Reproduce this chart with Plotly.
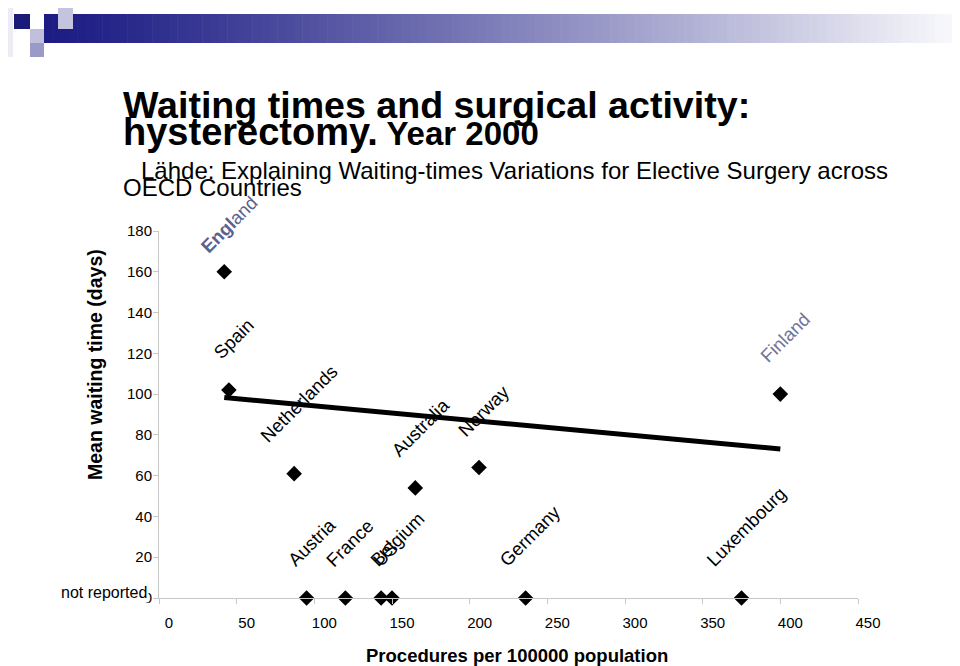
import numpy as np
import plotly.graph_objects as go

# ---- data ----
countries = ["England", "Spain", "Netherlands", "Austria", "France", "US",
             "Belgium", "Australia", "Norway", "Germany", "Luxembourg", "Finland"]
procedures = [42, 45, 87, 95, 120, 143, 150, 165, 206, 236, 375, 400]
waiting = [160, 102, 61, 0, 0, 0, 0, 54, 64, 0, 0, 100]   # 0 = not reported
reported = [True, True, True, False, False, False, False, True, True, False, False, True]
x_ticks = [0, 50, 100, 150, 200, 250, 300, 350, 400, 450]
y_ticks = [0, 20, 40, 60, 80, 100, 120, 140, 160, 180]

FONT = "Liberation Sans, Arial, sans-serif"
OFF = 8                     # page body margin
PAGE_W, PAGE_H = 960, 666
L, R, T, B = 159, 858, 231, 598   # plot area in page pixels


def P(px, py):
    return dict(xref="paper", yref="paper",
                x=(px - L) / (R - L), y=(B - py) / (B - T))


fig = go.Figure()

# trend line (least squares over reported points)
rx = np.array([p for p, r in zip(procedures, reported) if r], dtype=float)
ry = np.array([w for w, r in zip(waiting, reported) if r], dtype=float)
k, b0 = np.polyfit(rx, ry, 1)
tx = np.array([rx.min(), rx.max()])
fig.add_trace(go.Scatter(x=tx, y=k * tx + b0, mode="lines",
                         line=dict(color="black", width=5), hoverinfo="skip",
                         showlegend=False))

fig.add_trace(go.Scatter(x=procedures, y=waiting, mode="markers",
                         marker=dict(symbol="diamond", size=12, color="black"),
                         cliponaxis=False, showlegend=False))

annotations = []
label_colors = {"England": "#5b6190", "Finland": "#70739a"}
label_lift = {"England": 13}
for c, xv, yv in zip(countries, procedures, waiting):
    txt = "<b>Engl</b>and" if c == "England" else c
    annotations.append(dict(x=xv, y=yv, xref="x", yref="y", text=txt,
                            showarrow=False, textangle=-45,
                            xanchor="center", yanchor="bottom",
                            xshift=5, yshift=label_lift.get(c, 26), borderpad=0,
                            font=dict(family=FONT, size=18.5,
                                      color=label_colors.get(c, "black"))))

# titles
annotations.append(dict(**P(122, 105), text="<b>Waiting times and surgical activity:</b>",
                        showarrow=False, xanchor="left", yanchor="middle", borderpad=0,
                        font=dict(family=FONT, size=37.6, color="black")))
annotations.append(dict(**P(122, 132),
                        text="<b>hysterectomy.</b><b><span style='font-size:33px'> Year 2000</span></b>",
                        showarrow=False, xanchor="left", yanchor="middle", borderpad=0,
                        font=dict(family=FONT, size=38, color="black")))
annotations.append(dict(**P(140, 170),
                        text="Lähde: Explaining Waiting-times Variations for Elective Surgery across",
                        showarrow=False, xanchor="left", yanchor="middle", borderpad=0,
                        font=dict(family=FONT, size=24, color="black")))
annotations.append(dict(**P(122, 188), text="OECD Countries",
                        showarrow=False, xanchor="left", yanchor="middle", borderpad=0,
                        font=dict(family=FONT, size=24, color="black")))

# axis titles
annotations.append(dict(**P(95, 365), text="<b>Mean waiting time (days)</b>",
                        showarrow=False, textangle=-90, xanchor="center", yanchor="middle",
                        font=dict(family=FONT, size=19.5, color="black")))
annotations.append(dict(**P(517, 655), text="<b>Procedures per 100000 population</b>",
                        showarrow=False, xanchor="center", yanchor="middle",
                        font=dict(family=FONT, size=18.5, color="black")))
annotations.append(dict(**P(149, 592), text="not reported", bgcolor="white",
                        showarrow=False, xanchor="right", yanchor="middle", borderpad=1,
                        font=dict(family=FONT, size=16, color="black")))

# banner decoration
shapes = []


def rect(x0, y0, x1, y1, color):
    a = P(x0, y1)
    b_ = P(x1, y0)
    shapes.append(dict(type="rect", xref="paper", yref="paper",
                       x0=a["x"], y0=a["y"], x1=b_["x"], y1=b_["y"],
                       fillcolor=color, line=dict(width=0), layer="above"))


n = 110
x_start, x_end = 44, 960
c0 = np.array([28, 28, 132])
c1 = np.array([250, 250, 253])
for i in range(n):
    t = i / (n - 1)
    c = c0 + (c1 - c0) * (t ** 1.15)
    xa = x_start + (x_end - x_start) * i / n
    xb = x_start + (x_end - x_start) * (i + 1) / n + 0.6
    rect(xa, 14, xb, 43, "rgb(%d,%d,%d)" % tuple(c.astype(int)))
rect(8, 8, 13, 57, "#ececf4")
rect(14, 14, 30, 29, "#1a1a78")
rect(30, 29, 44, 43, "#c0c0dc")
rect(30, 43, 44, 57, "#9a9ac8")
rect(58, 8, 73, 29, "#c4c4de")

fig.update_layout(
    width=PAGE_W - OFF, height=PAGE_H - OFF,
    margin=dict(l=L - OFF, r=PAGE_W - R, t=T - OFF, b=PAGE_H - B, pad=0),
    paper_bgcolor="white", plot_bgcolor="white",
    font=dict(family=FONT, size=15, color="black"),
    annotations=annotations, shapes=shapes, showlegend=False,
    xaxis=dict(range=[0, 450], tickvals=x_ticks, ticktext=[str(v) for v in x_ticks],
               showline=True, linecolor="#c8c8c8", linewidth=1,
               ticks="outside", ticklen=5, tickcolor="#c8c8c8",
               showgrid=False, zeroline=False, automargin=False,
               ticklabelshift=10, ticklabelstandoff=6, tickfont=dict(size=15)),
    yaxis=dict(range=[0, 180], tickvals=y_ticks, ticktext=[str(v) for v in y_ticks],
               showline=True, linecolor="#c8c8c8", linewidth=1,
               ticks="outside", ticklen=5, tickcolor="#c8c8c8",
               showgrid=False, zeroline=False, automargin=False,
               ticklabelstandoff=-2, tickfont=dict(size=15)),
)

fig.write_html("out.html")
